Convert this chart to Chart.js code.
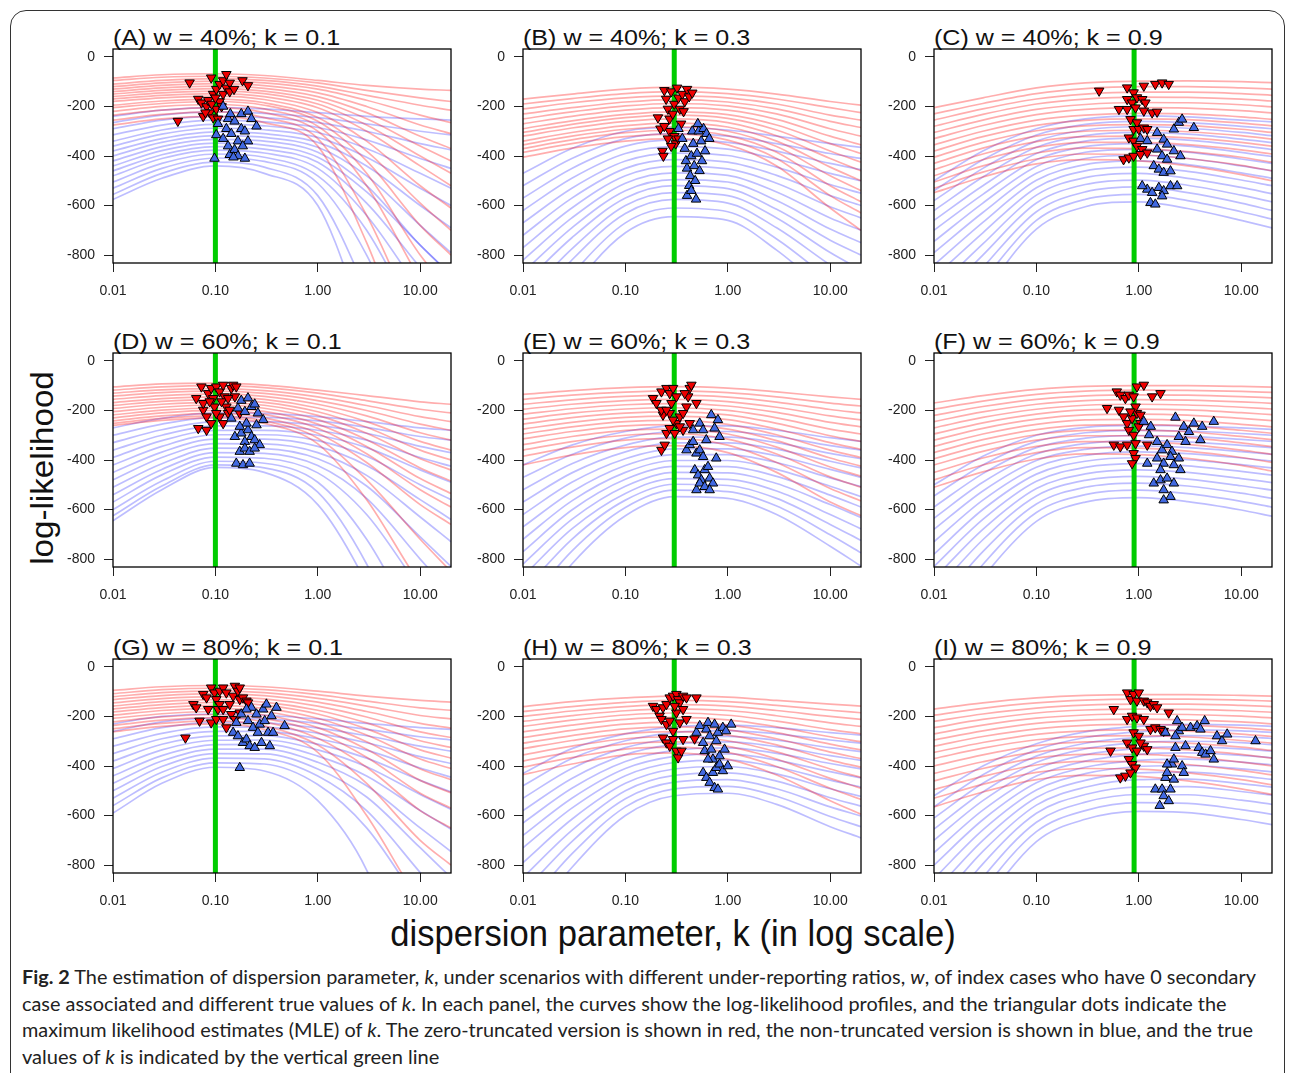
<!DOCTYPE html>
<html>
<head>
<meta charset="utf-8">
<script src="https://cdn.jsdelivr.net/npm/chart.js@4.4.0/dist/chart.umd.min.js"></script>
<style>
  body { margin: 0; background: #fff; width: 1292px; height: 1073px; position: relative; overflow: hidden; font-family: Arial, "Liberation Sans", sans-serif; }
  #frame { position: absolute; left: 10px; top: 10px; width: 1275px; height: 1090px; border: 1.5px solid #333; border-radius: 16px; box-sizing: border-box; }
  .ptitle { position: absolute; font-size: 22px; line-height: 22px; color: #111; white-space: nowrap; transform-origin: 0 0; transform: scaleX(1.14); }
  #ylab { position: absolute; left: 42px; top: 468px; font-size: 31px; line-height: 1; white-space: nowrap; color: #111; transform: translate(-50%, -50%) rotate(-90deg) scaleX(1.07); }
  #xlab { position: absolute; left: 673px; top: 933px; font-size: 37px; line-height: 1; white-space: nowrap; color: #111; transform: translate(-50%, -50%) scaleX(0.935); }
  #caption { position: absolute; left: 22px; top: 964px; font-family: Lato, "Open Sans", sans-serif; font-size: 18.5px; color: #222; }
  .cl { height: 26.5px; line-height: 26.5px; white-space: nowrap; }
  .cl span { display: inline-block; transform-origin: 0 50%; }
  canvas { position: absolute; }
</style>
</head>
<body>
<div id="frame"></div>
<div id="ylab">log-likelihood</div>
<div id="xlab">dispersion parameter, k (in log scale)</div>
<div id="caption">
  <div class="cl" data-w="1234"><span><b>Fig. 2</b> The estimation of dispersion parameter, <i>k</i>, under scenarios with different under-reporting ratios, <i>w</i>, of index cases who have 0 secondary</span></div>
  <div class="cl" data-w="1204"><span>case associated and different true values of <i>k</i>. In each panel, the curves show the log-likelihood profiles, and the triangular dots indicate the</span></div>
  <div class="cl" data-w="1231"><span>maximum likelihood estimates (MLE) of <i>k</i>. The zero-truncated version is shown in red, the non-truncated version is shown in blue, and the true</span></div>
  <div class="cl" data-w="417"><span>values of <i>k</i> is indicated by the vertical green line</span></div>
</div>
<script>
const kGrid = [0.01, 0.03, 0.1, 0.3, 1, 3, 10, 20];
const xTicks = [0.01, 0.1, 1, 10];
const xTickLabels = ['0.01', '0.10', '1.00', '10.00'];
const yTicks = [0, -200, -400, -600, -800];
const panelTitles = ['(A) w = 40%; k = 0.1', '(B) w = 40%; k = 0.3', '(C) w = 40%; k = 0.9',
                     '(D) w = 60%; k = 0.1', '(E) w = 60%; k = 0.3', '(F) w = 60%; k = 0.9',
                     '(G) w = 80%; k = 0.1', '(H) w = 80%; k = 0.3', '(I) w = 80%; k = 0.9'];
const trueK = [0.1, 0.3, 0.9, 0.1, 0.3, 0.9, 0.1, 0.3, 0.9];

// ---- (A) ----
const redCurvesA = [
  [-85,-72,-68,-75,-95,-115,-130,-135],
  [-95,-82,-78,-85,-105,-135,-165,-180],
  [-110,-95,-88,-95,-118,-155,-195,-215],
  [-120,-105,-98,-105,-130,-175,-235,-265],
  [-130,-115,-108,-116,-145,-200,-275,-310],
  [-140,-125,-118,-127,-160,-225,-320,-370],
  [-150,-135,-128,-138,-175,-250,-360,-420],
  [-160,-145,-138,-148,-190,-275,-400,-470],
  [-170,-155,-148,-160,-205,-300,-440,-520],
  [-180,-165,-158,-172,-225,-340,-520,-610],
  [-195,-178,-170,-185,-245,-380,-590,-700],
  [-205,-188,-180,-195,-260,-420,-680,-800],
  [-220,-200,-192,-210,-280,-470,-800,-950],
  [-235,-215,-205,-225,-300,-520,-900,-1100],
  [-255,-232,-222,-245,-330,-640,-1100,-1300],
  [-275,-250,-240,-265,-360,-750,-1300,-1500]
];
const blueCurvesA = [
  [-240,-215,-205,-210,-225,-240,-250,-255],
  [-265,-235,-222,-228,-245,-270,-300,-315],
  [-290,-255,-240,-245,-265,-300,-350,-375],
  [-315,-275,-255,-262,-285,-335,-410,-450],
  [-340,-295,-272,-278,-305,-370,-470,-530],
  [-360,-312,-288,-294,-325,-405,-530,-600],
  [-380,-330,-303,-310,-345,-440,-600,-690],
  [-400,-345,-318,-325,-365,-480,-680,-790],
  [-420,-362,-333,-340,-385,-520,-760,-880],
  [-440,-378,-348,-356,-405,-545,-760,-880],
  [-460,-395,-362,-372,-425,-590,-850,-1000],
  [-480,-410,-376,-388,-450,-640,-950,-1150],
  [-505,-430,-392,-405,-480,-700,-1100,-1350],
  [-530,-450,-408,-422,-510,-800,-1300,-1600],
  [-555,-470,-425,-445,-560,-950,-1500,-1800],
  [-575,-490,-440,-470,-600,-1100,-1700,-2000]
];
const redMleA = [[0.043,-259],[0.056,-104],[0.068,-170],[0.073,-185],[0.076,-240],[0.082,-200],[0.085,-175],[0.088,-225],[0.091,-84],[0.095,-150],[0.095,-245],[0.102,-130],[0.102,-210],[0.106,-250],[0.110,-180],[0.110,-110],[0.119,-95],[0.119,-150],[0.128,-70],[0.128,-125],[0.138,-105],[0.138,-140],[0.152,-130],[0.184,-95],[0.208,-115],[0.092,-190],[0.115,-200],[0.080,-225],[0.100,-165]];
const blueMleA = [[0.098,-410],[0.102,-315],[0.106,-270],[0.119,-200],[0.119,-330],[0.128,-290],[0.133,-250],[0.133,-360],[0.138,-395],[0.143,-310],[0.154,-260],[0.154,-375],[0.166,-340],[0.166,-400],[0.179,-290],[0.179,-230],[0.194,-300],[0.194,-410],[0.208,-340],[0.208,-220],[0.225,-250],[0.252,-280],[0.150,-405],[0.185,-360],[0.140,-230]];

// ---- (B) ----
const redCurvesB = [
  [-170,-150,-130,-122,-130,-150,-180,-195],
  [-190,-168,-148,-140,-148,-170,-205,-225],
  [-210,-185,-165,-157,-165,-190,-235,-255],
  [-230,-205,-182,-172,-182,-210,-260,-285],
  [-250,-222,-198,-188,-198,-230,-290,-320],
  [-270,-240,-215,-205,-215,-252,-320,-355],
  [-290,-258,-232,-222,-233,-275,-350,-390],
  [-305,-272,-245,-235,-248,-295,-380,-425],
  [-320,-287,-260,-250,-265,-318,-410,-460],
  [-340,-305,-277,-267,-283,-340,-445,-500],
  [-355,-320,-292,-282,-300,-362,-480,-540],
  [-370,-335,-306,-296,-318,-385,-520,-585],
  [-385,-350,-322,-312,-336,-410,-560,-630],
  [-405,-368,-340,-330,-355,-440,-610,-700]
];
const blueCurvesB = [
  [-470,-370,-300,-285,-295,-320,-350,-365],
  [-520,-410,-330,-310,-320,-350,-390,-410],
  [-570,-450,-360,-335,-345,-380,-430,-455],
  [-620,-490,-390,-362,-372,-412,-470,-500],
  [-670,-530,-420,-388,-398,-445,-515,-550],
  [-720,-570,-450,-415,-425,-478,-560,-600],
  [-770,-610,-480,-442,-452,-510,-605,-650],
  [-820,-650,-510,-468,-478,-545,-650,-700],
  [-870,-690,-540,-495,-505,-580,-695,-750],
  [-920,-730,-570,-520,-532,-615,-740,-800],
  [-980,-775,-600,-548,-560,-650,-790,-860],
  [-1050,-820,-632,-575,-590,-690,-840,-920],
  [-1150,-880,-670,-610,-625,-735,-900,-990],
  [-1250,-940,-710,-645,-660,-780,-960,-1060]
];
const redMleB = [[0.208,-245],[0.22,-290],[0.23,-380],[0.235,-400],[0.24,-135],[0.25,-170],[0.26,-210],[0.27,-250],[0.27,-300],[0.28,-140],[0.29,-230],[0.30,-190],[0.30,-320],[0.31,-350],[0.32,-125],[0.33,-165],[0.34,-210],[0.35,-270],[0.36,-150],[0.38,-180],[0.40,-130],[0.42,-160],[0.45,-145],[0.28,-360],[0.33,-330],[0.26,-330],[0.24,-280],[0.37,-220]];
const blueMleB = [[0.33,-290],[0.36,-330],[0.38,-370],[0.39,-420],[0.40,-450],[0.40,-560],[0.42,-520],[0.43,-480],[0.44,-400],[0.45,-300],[0.46,-350],[0.47,-440],[0.48,-500],[0.49,-575],[0.50,-390],[0.52,-300],[0.53,-460],[0.55,-340],[0.56,-420],[0.58,-290],[0.60,-380],[0.62,-310],[0.66,-330],[0.44,-540],[0.51,-270]];

// ---- (C) ----
const redCurvesC = [
  [-205,-165,-125,-105,-98,-97,-100,-104],
  [-230,-188,-148,-128,-120,-120,-125,-130],
  [-255,-210,-170,-150,-142,-142,-148,-155],
  [-280,-232,-190,-170,-162,-163,-170,-178],
  [-305,-255,-212,-192,-184,-185,-193,-202],
  [-330,-277,-233,-212,-205,-207,-217,-226],
  [-355,-300,-255,-235,-228,-230,-242,-252],
  [-380,-322,-276,-256,-250,-253,-267,-278],
  [-405,-345,-298,-278,-273,-277,-292,-305],
  [-430,-368,-320,-300,-296,-302,-318,-332],
  [-455,-392,-342,-322,-320,-327,-345,-360],
  [-480,-415,-365,-345,-345,-354,-375,-392],
  [-505,-440,-388,-368,-370,-382,-405,-425],
  [-530,-465,-412,-392,-395,-410,-438,-460],
  [-548,-485,-432,-415,-420,-440,-475,-500]
];
const blueCurvesC = [
  [-500,-380,-290,-250,-238,-242,-255,-262],
  [-540,-415,-315,-272,-260,-265,-280,-290],
  [-580,-450,-340,-295,-282,-288,-305,-318],
  [-620,-485,-365,-318,-305,-312,-332,-346],
  [-660,-520,-390,-340,-328,-336,-358,-374],
  [-700,-555,-415,-362,-350,-360,-385,-402],
  [-745,-590,-442,-385,-373,-384,-412,-430],
  [-790,-628,-470,-410,-397,-410,-440,-460],
  [-840,-668,-498,-435,-420,-435,-468,-490],
  [-890,-710,-528,-460,-445,-462,-497,-520],
  [-945,-755,-558,-487,-470,-490,-527,-552],
  [-1000,-800,-590,-515,-497,-518,-558,-585],
  [-1070,-850,-625,-545,-525,-548,-590,-620],
  [-1150,-905,-660,-575,-555,-580,-625,-655],
  [-1230,-960,-695,-605,-585,-612,-660,-690]
];
const redMleC = [[0.41,-137],[0.77,-124],[0.89,-144],[1.12,-117],[1.45,-110],[1.69,-104],[1.96,-110],[0.77,-171],[0.86,-185],[0.96,-164],[1.08,-171],[1.16,-185],[0.64,-211],[0.77,-211],[0.93,-205],[1.12,-218],[1.35,-225],[1.51,-222],[0.83,-252],[0.96,-265],[0.89,-292],[1.0,-292],[1.12,-286],[1.21,-292],[0.80,-326],[0.89,-339],[0.96,-360],[1.08,-373],[0.71,-414],[0.80,-407],[0.89,-400],[1.04,-393],[1.21,-387]];
const blueMleC = [[1.04,-330],[1.21,-339],[1.51,-306],[1.75,-333],[1.89,-353],[2.20,-292],[2.46,-265],[2.65,-252],[3.45,-286],[1.51,-373],[1.69,-400],[1.89,-414],[2.20,-380],[2.55,-400],[1.40,-440],[1.57,-454],[1.75,-467],[2.04,-461],[1.21,-535],[1.35,-548],[1.57,-528],[1.75,-541],[2.04,-521],[2.37,-521],[1.30,-589],[1.45,-595],[1.69,-562],[1.08,-521]];

// ---- (D) ----
const redCurvesD = [
  [-105,-93,-90,-98,-118,-140,-165,-175],
  [-118,-105,-100,-108,-130,-160,-195,-210],
  [-130,-117,-112,-120,-145,-180,-225,-245],
  [-142,-128,-122,-131,-160,-200,-255,-280],
  [-155,-140,-133,-143,-175,-222,-290,-320],
  [-168,-152,-145,-155,-190,-245,-325,-360],
  [-180,-163,-156,-167,-205,-268,-360,-400],
  [-192,-175,-167,-179,-220,-292,-395,-440],
  [-205,-187,-178,-191,-237,-318,-432,-485],
  [-218,-199,-190,-204,-255,-345,-475,-535],
  [-230,-210,-200,-216,-272,-375,-520,-590],
  [-242,-222,-212,-230,-292,-410,-580,-660],
  [-252,-232,-222,-242,-312,-480,-720,-850],
  [-260,-240,-230,-252,-335,-560,-900,-1050]
];
const blueCurvesD = [
  [-270,-232,-210,-212,-225,-245,-270,-280],
  [-300,-255,-228,-228,-242,-268,-305,-320],
  [-330,-278,-245,-245,-260,-292,-345,-370],
  [-360,-300,-262,-262,-280,-320,-390,-425],
  [-390,-322,-280,-280,-300,-350,-440,-490],
  [-420,-345,-298,-298,-322,-385,-500,-560],
  [-450,-368,-316,-316,-345,-422,-560,-640],
  [-480,-390,-334,-335,-370,-462,-630,-730],
  [-510,-415,-352,-354,-395,-505,-710,-830],
  [-540,-438,-370,-373,-422,-555,-800,-940],
  [-570,-460,-388,-393,-452,-620,-920,-1080],
  [-600,-485,-405,-413,-490,-720,-1100,-1300],
  [-625,-505,-420,-432,-530,-820,-1300,-1600],
  [-645,-520,-430,-450,-580,-900,-1400,-1700]
];
const redMleD = [[0.065,-151],[0.073,-104],[0.076,-198],[0.082,-225],[0.085,-131],[0.091,-110],[0.095,-151],[0.098,-185],[0.102,-104],[0.110,-124],[0.119,-97],[0.123,-144],[0.128,-185],[0.133,-211],[0.143,-110],[0.149,-97],[0.138,-198],[0.155,-144],[0.173,-211],[0.068,-272],[0.082,-279],[0.091,-252],[0.110,-225],[0.119,-252],[0.102,-211],[0.076,-171],[0.088,-164],[0.115,-164],[0.133,-151],[0.160,-104]];
const blueMleD = [[0.143,-232],[0.166,-191],[0.179,-160],[0.194,-205],[0.208,-150],[0.225,-185],[0.242,-175],[0.260,-211],[0.293,-238],[0.155,-306],[0.179,-292],[0.194,-326],[0.208,-279],[0.225,-306],[0.242,-319],[0.271,-339],[0.173,-366],[0.194,-353],[0.216,-366],[0.242,-353],[0.160,-414],[0.186,-420],[0.216,-414],[0.201,-252],[0.252,-259],[0.173,-265]];

// ---- (E) ----
const redCurvesE = [
  [-135,-120,-108,-104,-110,-125,-145,-155],
  [-155,-138,-126,-121,-128,-145,-170,-182],
  [-175,-157,-143,-138,-146,-166,-196,-210],
  [-195,-175,-160,-155,-164,-187,-222,-238],
  [-215,-193,-177,-172,-182,-208,-248,-266],
  [-235,-211,-194,-189,-200,-230,-275,-295],
  [-255,-229,-211,-206,-218,-252,-302,-325],
  [-275,-248,-228,-223,-237,-275,-330,-357],
  [-295,-266,-245,-240,-256,-298,-360,-390],
  [-315,-285,-262,-257,-275,-322,-392,-425],
  [-338,-305,-280,-275,-295,-348,-428,-465],
  [-360,-326,-300,-294,-316,-376,-468,-510],
  [-385,-348,-320,-314,-340,-410,-515,-565],
  [-420,-380,-350,-342,-370,-450,-570,-625]
];
const blueCurvesE = [
  [-420,-340,-285,-262,-262,-280,-310,-325],
  [-470,-378,-312,-285,-285,-305,-342,-360],
  [-520,-415,-340,-308,-308,-330,-373,-395],
  [-570,-452,-367,-331,-331,-356,-405,-432],
  [-620,-490,-395,-355,-355,-383,-438,-470],
  [-670,-528,-422,-378,-378,-410,-472,-508],
  [-720,-565,-450,-402,-402,-438,-506,-548],
  [-770,-602,-478,-426,-427,-466,-542,-590],
  [-820,-640,-506,-450,-452,-495,-580,-632],
  [-870,-678,-535,-475,-478,-525,-620,-678],
  [-930,-720,-562,-498,-503,-555,-660,-725],
  [-1000,-768,-592,-522,-528,-586,-702,-775],
  [-1080,-820,-625,-548,-555,-620,-748,-828]
];
const redMleE = [[0.186,-151],[0.201,-171],[0.225,-124],[0.233,-218],[0.252,-110],[0.271,-131],[0.282,-171],[0.292,-110],[0.315,-144],[0.225,-360],[0.242,-339],[0.252,-292],[0.271,-272],[0.303,-292],[0.315,-252],[0.340,-225],[0.366,-279],[0.395,-185],[0.410,-144],[0.425,-110],[0.441,-97],[0.494,-171],[0.271,-211],[0.292,-238],[0.340,-265],[0.366,-211],[0.425,-252],[0.225,-198],[0.252,-198],[0.380,-131]];
const blueMleE = [[0.395,-360],[0.425,-339],[0.459,-326],[0.494,-373],[0.532,-360],[0.574,-387],[0.617,-319],[0.690,-218],[0.743,-272],[0.801,-238],[0.831,-306],[0.772,-393],[0.476,-440],[0.513,-461],[0.552,-481],[0.595,-440],[0.641,-427],[0.665,-474],[0.716,-494],[0.494,-521],[0.532,-494],[0.595,-508],[0.665,-521],[0.459,-279],[0.532,-252],[0.574,-279]];

// ---- (F) ----
const redCurvesF = [
  [-170,-140,-115,-103,-100,-100,-103,-106],
  [-195,-162,-135,-122,-118,-119,-123,-127],
  [-220,-184,-155,-141,-137,-138,-144,-149],
  [-245,-206,-175,-160,-156,-158,-165,-171],
  [-270,-228,-195,-179,-175,-178,-187,-194],
  [-295,-250,-215,-198,-195,-198,-209,-217],
  [-320,-272,-235,-218,-215,-219,-232,-241],
  [-345,-295,-256,-238,-236,-241,-256,-266],
  [-370,-318,-277,-259,-257,-263,-280,-292],
  [-395,-341,-298,-280,-279,-286,-305,-318],
  [-420,-365,-320,-302,-302,-310,-331,-346],
  [-450,-392,-345,-326,-327,-337,-360,-377],
  [-480,-420,-370,-350,-352,-364,-390,-410],
  [-510,-448,-396,-375,-378,-393,-422,-445]
];
const blueCurvesF = [
  [-500,-385,-300,-268,-260,-262,-270,-276],
  [-545,-420,-325,-290,-280,-283,-293,-300],
  [-590,-455,-350,-312,-301,-305,-317,-325],
  [-635,-490,-376,-334,-322,-327,-341,-350],
  [-680,-525,-402,-357,-344,-350,-366,-377],
  [-730,-562,-429,-381,-367,-374,-392,-404],
  [-780,-600,-457,-405,-391,-399,-419,-432],
  [-830,-640,-486,-430,-415,-424,-446,-461],
  [-880,-680,-515,-456,-440,-450,-475,-491],
  [-935,-722,-545,-482,-466,-477,-504,-522],
  [-1000,-770,-578,-510,-493,-505,-534,-555],
  [-1080,-822,-612,-540,-522,-536,-567,-590],
  [-1160,-875,-648,-570,-552,-568,-602,-627]
];
const redMleF = [[0.49,-191],[0.61,-124],[0.66,-137],[0.64,-198],[0.74,-151],[0.80,-137],[0.89,-144],[0.96,-104],[1.12,-97],[1.35,-144],[1.63,-131],[0.71,-225],[0.77,-252],[0.86,-232],[0.96,-211],[1.04,-252],[0.93,-185],[0.80,-279],[0.89,-299],[1.0,-265],[0.57,-339],[0.66,-346],[0.77,-339],[0.93,-333],[1.21,-339],[0.89,-373],[0.93,-393],[0.86,-414],[1.04,-218],[0.83,-205]];
const blueMleF = [[1.12,-245],[1.31,-265],[1.26,-299],[1.51,-326],[1.69,-360],[1.89,-339],[2.11,-366],[2.28,-228],[2.46,-306],[2.75,-265],[3.09,-286],[3.45,-252],[4.16,-265],[5.40,-245],[4.00,-319],[2.86,-326],[1.21,-414],[1.51,-393],[1.75,-414],[2.04,-387],[2.20,-420],[2.55,-440],[1.40,-494],[1.63,-481],[1.89,-474],[2.20,-494],[1.75,-521],[2.04,-548],[1.75,-562],[2.46,-393],[1.63,-440]];

// ---- (G) ----
const redCurvesG = [
  [-95,-80,-75,-80,-98,-118,-135,-142],
  [-108,-92,-86,-92,-112,-138,-165,-175],
  [-120,-104,-97,-104,-127,-158,-196,-210],
  [-132,-116,-108,-116,-142,-180,-228,-247],
  [-145,-128,-120,-129,-158,-202,-262,-285],
  [-158,-140,-132,-142,-175,-226,-298,-325],
  [-170,-152,-143,-154,-190,-250,-335,-368],
  [-182,-164,-155,-167,-207,-275,-372,-410],
  [-195,-176,-167,-180,-225,-302,-412,-455],
  [-208,-189,-180,-194,-245,-332,-458,-508],
  [-222,-202,-192,-208,-265,-365,-510,-570],
  [-236,-215,-205,-222,-288,-405,-580,-650],
  [-250,-228,-218,-238,-315,-470,-700,-800],
  [-262,-240,-230,-252,-345,-600,-950,-1100]
];
const blueCurvesG = [
  [-230,-200,-190,-195,-210,-228,-245,-252],
  [-260,-222,-207,-210,-228,-252,-282,-295],
  [-290,-245,-224,-226,-247,-278,-320,-340],
  [-320,-268,-242,-243,-268,-306,-362,-390],
  [-350,-290,-260,-260,-290,-336,-408,-445],
  [-380,-312,-278,-277,-312,-368,-458,-505],
  [-410,-335,-296,-295,-335,-403,-515,-575],
  [-440,-358,-314,-313,-360,-440,-580,-655],
  [-470,-380,-332,-332,-385,-480,-650,-745],
  [-500,-402,-350,-351,-412,-525,-730,-850],
  [-530,-425,-368,-371,-440,-580,-830,-970],
  [-560,-448,-387,-392,-475,-650,-960,-1130],
  [-590,-470,-405,-420,-540,-820,-1400,-1700]
];
const redMleG = [[0.051,-286],[0.061,-151],[0.065,-164],[0.070,-218],[0.076,-110],[0.082,-124],[0.085,-171],[0.091,-84],[0.098,-104],[0.102,-131],[0.106,-171],[0.110,-97],[0.119,-84],[0.128,-104],[0.138,-151],[0.143,-191],[0.149,-117],[0.155,-77],[0.166,-97],[0.173,-131],[0.173,-84],[0.186,-124],[0.201,-137],[0.208,-144],[0.091,-225],[0.102,-211],[0.119,-211],[0.128,-245],[0.155,-211],[0.173,-185],[0.110,-151],[0.119,-171]];
const blueMleG = [[0.149,-265],[0.160,-225],[0.166,-279],[0.179,-191],[0.186,-306],[0.201,-292],[0.208,-218],[0.216,-319],[0.225,-164],[0.233,-245],[0.242,-326],[0.252,-191],[0.260,-265],[0.271,-232],[0.282,-306],[0.292,-171],[0.303,-218],[0.315,-151],[0.327,-265],[0.340,-319],[0.353,-198],[0.366,-265],[0.395,-164],[0.474,-238],[0.173,-407],[0.201,-171]];

// ---- (H) ----
const redCurvesH = [
  [-160,-140,-125,-118,-122,-135,-150,-158],
  [-180,-160,-143,-135,-140,-155,-175,-185],
  [-200,-178,-160,-152,-158,-176,-200,-212],
  [-220,-197,-177,-169,-176,-197,-226,-240],
  [-240,-215,-194,-186,-195,-219,-253,-270],
  [-262,-235,-212,-204,-214,-242,-282,-302],
  [-285,-256,-231,-223,-234,-265,-312,-335],
  [-308,-277,-250,-242,-254,-290,-344,-370],
  [-330,-297,-269,-261,-275,-315,-376,-405],
  [-355,-320,-290,-282,-298,-343,-412,-446],
  [-380,-343,-311,-303,-321,-372,-450,-490],
  [-405,-366,-332,-324,-345,-402,-490,-535],
  [-435,-392,-355,-347,-372,-436,-540,-595]
];
const blueCurvesH = [
  [-430,-330,-270,-242,-235,-245,-265,-275],
  [-480,-370,-298,-265,-257,-270,-295,-308],
  [-530,-410,-326,-289,-280,-296,-326,-342],
  [-580,-450,-354,-313,-303,-322,-358,-377],
  [-630,-490,-382,-337,-327,-349,-390,-412],
  [-680,-530,-410,-361,-351,-376,-423,-448],
  [-730,-570,-439,-386,-376,-404,-457,-485],
  [-790,-615,-470,-412,-402,-432,-492,-523],
  [-850,-660,-500,-438,-428,-461,-528,-562],
  [-910,-705,-532,-465,-455,-492,-565,-602],
  [-980,-755,-565,-492,-482,-522,-604,-645],
  [-1060,-810,-600,-520,-510,-555,-645,-690]
];
const redMleH = [[0.186,-158],[0.201,-171],[0.216,-198],[0.225,-211],[0.233,-164],[0.252,-151],[0.271,-124],[0.292,-117],[0.315,-110],[0.327,-131],[0.340,-144],[0.366,-117],[0.395,-124],[0.494,-124],[0.252,-232],[0.271,-218],[0.292,-259],[0.315,-185],[0.340,-225],[0.366,-171],[0.395,-211],[0.233,-286],[0.252,-306],[0.271,-319],[0.292,-292],[0.315,-339],[0.327,-366],[0.353,-339],[0.366,-292],[0.474,-290],[0.303,-158]];
const blueMleH = [[0.494,-265],[0.532,-238],[0.574,-306],[0.595,-339],[0.617,-252],[0.641,-225],[0.665,-279],[0.690,-333],[0.716,-373],[0.743,-232],[0.772,-299],[0.801,-265],[0.831,-360],[0.895,-245],[0.96,-259],[1.08,-232],[0.716,-427],[0.772,-407],[0.831,-393],[0.895,-420],[1.0,-400],[0.574,-427],[0.617,-447],[0.665,-467],[0.743,-488],[0.801,-494],[0.641,-373],[0.93,-333]];

// ---- (I) ----
const redCurvesI = [
  [-170,-145,-125,-115,-112,-112,-115,-118],
  [-195,-167,-145,-134,-130,-130,-134,-138],
  [-220,-190,-166,-154,-150,-150,-155,-160],
  [-245,-212,-186,-174,-170,-171,-177,-183],
  [-270,-235,-207,-194,-190,-192,-199,-206],
  [-295,-258,-228,-215,-211,-214,-222,-230],
  [-320,-281,-250,-236,-232,-236,-246,-255],
  [-345,-305,-272,-258,-254,-259,-271,-281],
  [-370,-328,-294,-280,-277,-283,-297,-308],
  [-400,-355,-318,-303,-301,-308,-324,-337],
  [-430,-383,-343,-328,-327,-335,-353,-368],
  [-460,-410,-368,-353,-353,-363,-384,-400],
  [-495,-442,-396,-381,-382,-394,-418,-436],
  [-530,-474,-426,-410,-413,-428,-455,-476],
  [-565,-505,-455,-438,-442,-460,-492,-515]
];
const blueCurvesI = [
  [-520,-400,-310,-262,-240,-232,-235,-240],
  [-565,-435,-335,-285,-262,-254,-258,-264],
  [-610,-470,-360,-308,-284,-277,-282,-289],
  [-655,-505,-386,-331,-306,-300,-306,-314],
  [-700,-540,-412,-355,-329,-323,-331,-340],
  [-750,-578,-440,-380,-353,-347,-357,-367],
  [-800,-617,-468,-405,-377,-372,-384,-395],
  [-855,-658,-497,-431,-402,-398,-412,-424],
  [-910,-700,-527,-458,-428,-425,-441,-454],
  [-970,-745,-558,-486,-455,-453,-471,-485],
  [-1040,-795,-591,-515,-484,-483,-503,-518],
  [-1120,-850,-627,-546,-515,-516,-538,-555],
  [-1200,-905,-665,-580,-548,-551,-576,-595],
  [-1290,-965,-705,-615,-583,-588,-616,-637]
];
const redMleI = [[0.57,-171],[0.77,-104],[0.83,-131],[0.89,-110],[0.96,-137],[1.0,-104],[1.12,-137],[1.21,-144],[1.30,-158],[1.40,-151],[1.51,-164],[1.96,-185],[0.77,-211],[0.86,-198],[0.96,-205],[1.12,-211],[1.30,-252],[1.45,-245],[1.63,-252],[1.75,-259],[0.89,-265],[1.0,-279],[1.12,-319],[1.21,-333],[0.77,-306],[0.86,-326],[0.96,-339],[0.53,-339],[0.80,-373],[0.86,-393],[0.93,-407],[0.66,-447],[0.74,-440],[0.83,-427],[1.04,-306]];
const blueMleI = [[1.45,-494],[1.69,-494],[1.75,-521],[1.82,-447],[1.89,-427],[1.96,-541],[2.04,-494],[2.11,-393],[2.20,-373],[2.28,-326],[2.37,-218],[2.46,-259],[2.65,-400],[2.75,-427],[2.86,-319],[1.82,-265],[2.28,-279],[2.65,-245],[3.20,-245],[3.71,-238],[4.00,-252],[3.85,-326],[4.16,-346],[4.49,-353],[5.02,-339],[5.40,-373],[5.8,-279],[6.5,-299],[7.3,-272],[13.8,-299],[1.89,-393],[2.20,-454],[1.60,-560],[4.4,-218]];

const panels = [
  { red: redCurvesA, blue: blueCurvesA, redMle: redMleA, blueMle: blueMleA },
  { red: redCurvesB, blue: blueCurvesB, redMle: redMleB, blueMle: blueMleB },
  { red: redCurvesC, blue: blueCurvesC, redMle: redMleC, blueMle: blueMleC },
  { red: redCurvesD, blue: blueCurvesD, redMle: redMleD, blueMle: blueMleD },
  { red: redCurvesE, blue: blueCurvesE, redMle: redMleE, blueMle: blueMleE },
  { red: redCurvesF, blue: blueCurvesF, redMle: redMleF, blueMle: blueMleF },
  { red: redCurvesG, blue: blueCurvesG, redMle: redMleG, blueMle: blueMleG },
  { red: redCurvesH, blue: blueCurvesH, redMle: redMleH, blueMle: blueMleH },
  { red: redCurvesI, blue: blueCurvesI, redMle: redMleI, blueMle: blueMleI }
];

// axis limits (R style: 0..-800 extended by 4%)
const Y_MIN = -832, Y_MAX = 32;
const X_MIN = 0.01, X_MAX = 20;

// layout of the plot boxes on the page
const plotLeft = [113, 523, 934];
const plotTop = [49, 353, 659];
const PLOT_W = 338, PLOT_H = 214;
const PAD_L = 75, PAD_T = 10, PAD_R = 14, PAD_B = 45;

Chart.defaults.font.family = 'Arial, "Liberation Sans", sans-serif';
Chart.defaults.font.size = 14;

// full box around the plotting region
const boxPlugin = {
  id: 'box',
  afterDatasetsDraw(chart) {
    const { ctx, chartArea: a } = chart;
    ctx.save();
    ctx.strokeStyle = '#000';
    ctx.lineWidth = 1.3;
    ctx.strokeRect(a.left, a.top, a.right - a.left, a.bottom - a.top);
    ctx.restore();
  }
};

const curveSet = (rows, color, order) => rows.map(vals => ({
  data: kGrid.map((k, j) => ({ x: k, y: vals[j] })),
  showLine: true,
  pointRadius: 0,
  borderColor: color,
  borderWidth: 1.7,
  cubicInterpolationMode: 'monotone',
  order: order
}));

function makePanel(i) {
  const p = panels[i];
  const col = i % 3, row = Math.floor(i / 3);
  const left = plotLeft[col], top = plotTop[row];

  const title = document.createElement('div');
  title.className = 'ptitle';
  title.textContent = panelTitles[i];
  title.style.left = left + 'px';
  title.style.top = (top - 22) + 'px';
  document.body.appendChild(title);

  const canvas = document.createElement('canvas');
  canvas.width = PAD_L + PLOT_W + PAD_R;
  canvas.height = PAD_T + PLOT_H + PAD_B;
  canvas.style.left = (left - PAD_L) + 'px';
  canvas.style.top = (top - PAD_T) + 'px';
  canvas.style.width = canvas.width + 'px';
  canvas.style.height = canvas.height + 'px';
  document.body.appendChild(canvas);

  const datasets = [
    {
      data: p.blueMle.map(([k, ll]) => ({ x: k, y: ll })),
      pointStyle: 'triangle', pointRadius: 5.5, pointRotation: 0,
      pointBackgroundColor: '#4169e1', pointBorderColor: '#000', pointBorderWidth: 1,
      order: 0
    },
    {
      data: p.redMle.map(([k, ll]) => ({ x: k, y: ll })),
      pointStyle: 'triangle', pointRadius: 5.5, pointRotation: 180,
      pointBackgroundColor: '#ee0000', pointBorderColor: '#000', pointBorderWidth: 1,
      order: 1
    },
    {
      data: [{ x: trueK[i], y: Y_MIN }, { x: trueK[i], y: Y_MAX }],
      showLine: true, pointRadius: 0, borderColor: '#00cc00', borderWidth: 5,
      order: 2
    },
    ...curveSet(p.red, 'rgba(255,0,0,0.32)', 3),
    ...curveSet(p.blue, 'rgba(0,0,255,0.26)', 4)
  ];

  new Chart(canvas, {
    type: 'scatter',
    data: { datasets },
    options: {
      responsive: false,
      animation: false,
      events: [],
      layout: { padding: { top: PAD_T, right: PAD_R, left: 0, bottom: 0 } },
      plugins: { legend: { display: false }, tooltip: { enabled: false } },
      scales: {
        x: {
          type: 'logarithmic', min: X_MIN, max: X_MAX,
          afterBuildTicks: s => { s.ticks = xTicks.map(v => ({ value: v })); },
          afterFit: s => { s.height = PAD_B; s.paddingLeft = 0; s.paddingRight = 0; },
          ticks: { autoSkip: false, maxRotation: 0, padding: 11, color: '#222',
                   callback: v => xTickLabels[xTicks.indexOf(v)] },
          grid: { drawOnChartArea: false, tickLength: 9, color: '#222' },
          border: { display: false }
        },
        y: {
          min: Y_MIN, max: Y_MAX,
          afterBuildTicks: s => { s.ticks = yTicks.map(v => ({ value: v })); },
          afterFit: s => { s.width = PAD_L; s.paddingTop = 0; s.paddingBottom = 0; },
          ticks: { autoSkip: false, padding: 9, color: '#222', callback: v => String(v) },
          grid: { drawOnChartArea: false, tickLength: 9, color: '#222' },
          border: { display: false }
        }
      }
    },
    plugins: [boxPlugin]
  });
}

panels.forEach((p, i) => makePanel(i));

// squeeze/stretch each caption line to the width it has in the figure
function fitCaption() {
  document.querySelectorAll('.cl').forEach(line => {
    const span = line.querySelector('span');
    const target = +line.dataset.w;
    const w = span.offsetWidth;   // layout width, ignores the transform
    if (w > 0) span.style.transform = `scaleX(${target / w})`;
  });
}
fitCaption();
if (document.fonts && document.fonts.ready) document.fonts.ready.then(fitCaption);
</script>
</body>
</html>
